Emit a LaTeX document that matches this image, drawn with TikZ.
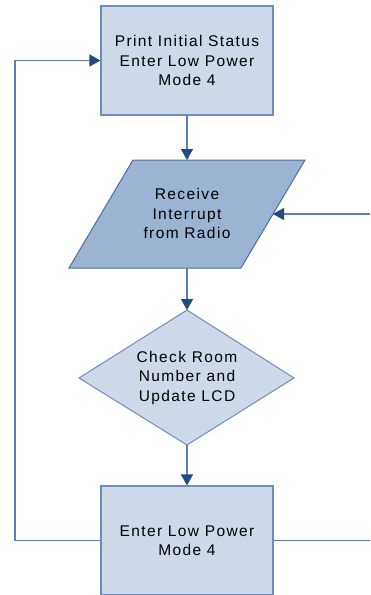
\documentclass[tikz,border=0pt]{standalone}
\usepackage{fontspec}
\setmainfont[LetterSpace=9]{Liberation Sans}
\usetikzlibrary{arrows.meta}
\definecolor{boxfill}{HTML}{CDD9E8}
\definecolor{boxedge}{HTML}{6F8DB8}
\definecolor{iofill}{HTML}{9BB4D2}
\definecolor{ioedge}{HTML}{4A6FA0}
\definecolor{wire}{HTML}{5F80AE}
\definecolor{tipcol}{HTML}{1F4B80}
\tikzset{
  procbox/.style={draw=boxedge, fill=boxfill, line width=1.2pt, minimum width=172pt, minimum height=109pt, inner sep=0pt},
  label text/.style={align=center, font=\fontsize{15.5}{19.5}\selectfont, text=black},
  flow/.style={draw=wire, line width=1.3pt, -{Triangle[length=11pt,width=12pt,color=tipcol]}},
  plain/.style={draw=wire, line width=1.2pt},
}
\begin{document}
\begin{tikzpicture}[x=1pt,y=-1pt]
\useasboundingbox (0,0) rectangle (370,595);
% start box
\node[procbox, label text] (init) at (187,60.5) {Print Initial Status\\Enter Low Power\\Mode 4};
% input parallelogram: receive from radio
\coordinate (pTL) at (133,160);
\coordinate (pTR) at (305,160);
\coordinate (pBR) at (241,268);
\coordinate (pBL) at (69,268);
\draw[fill=iofill, draw=ioedge, line width=1pt] (pTL) -- (pTR) -- (pBR) -- (pBL) -- cycle;
\node[label text] (recv) at (187,213.5) {Receive\\Interrupt\\from Radio};
\coordinate (recvTop) at (187,160);
\coordinate (recvBot) at (187,268);
\coordinate (recvRight) at (273,214);
% decision diamond
\coordinate (dT) at (187,310);
\coordinate (dR) at (294,378);
\coordinate (dB) at (187,445);
\coordinate (dL) at (79,378);
\draw[fill=boxfill, draw=boxedge, line width=1pt] (dT) -- (dR) -- (dB) -- (dL) -- cycle;
\node[label text] (check) at (187,377.5) {Check Room\\Number and\\Update LCD};
% low power box
\node[procbox, label text] (lpm) at (187,540.5) {Enter Low Power\\Mode 4};
% loose ends leaving the page on the right
\coordinate (radioIn) at (370,214);
\coordinate (lpmOut) at (370,540.5);
\coordinate (loopL) at (15,540.5);
\coordinate (loopT) at (15,60.5);
% connectors
\draw[flow] (init.south) -- (recvTop);
\draw[flow] (recvBot) -- (dT);
\draw[flow] (dB) -- (lpm.north);
\draw[flow] (radioIn) -- (recvRight);
\draw[plain] (lpm.east) -- (lpmOut);
\draw[flow] (lpm.west) -- (loopL) -- (loopT) -- (init.west);
\end{tikzpicture}
\end{document}
